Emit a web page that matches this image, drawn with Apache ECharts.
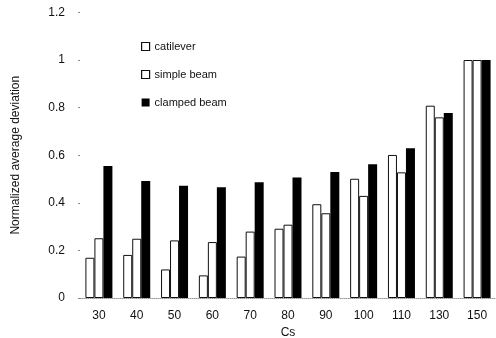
<!DOCTYPE html>
<html>
<head>
<meta charset="utf-8">
<script src="https://cdn.jsdelivr.net/npm/echarts@6/dist/echarts.min.js"></script>
<style>
html,body{margin:0;padding:0;background:#fff;}
#chart{width:496px;height:338px;}
</style>
</head>
<body>
<div id="chart"></div>
<script>
var categories = ['30','40','50','60','70','80','90','100','110','130','150'];
var cantilever = [0.169,0.181,0.120,0.095,0.174,0.291,0.394,0.501,0.601,0.808,1.0];
var simpleBeam = [0.251,0.249,0.242,0.235,0.279,0.308,0.356,0.429,0.528,0.759,1.0];
var clampedBeam = [0.555,0.492,0.472,0.465,0.486,0.506,0.529,0.562,0.629,0.777,1.0];
var yTicks = [0,0.2,0.4,0.6,0.8,1,1.2];

var font = 'Liberation Sans';
var chart = echarts.init(document.getElementById('chart'), null, {renderer:'canvas'});
chart.setOption({
  animation:false,
  backgroundColor:'#fff',
  textStyle:{fontFamily:font},
  grid:{left:80,right:0,top:12.4,bottom:40,containLabel:false,outerBoundsMode:'none'},
  legend:{
    left:141, top:41, padding:0, orient:'vertical', itemWidth:8, itemHeight:8, itemGap:17,
    textStyle:{fontFamily:font,fontSize:11,color:'#111'},
    data:[
      {name:'catilever',icon:'rect',itemStyle:{color:'#fff',borderColor:'#111',borderWidth:1.2}},
      {name:'simple beam',icon:'rect',itemStyle:{color:'#fff',borderColor:'#111',borderWidth:1.2}},
      {name:'clamped beam',icon:'rect',itemStyle:{color:'#000'}}
    ]
  },
  xAxis:{
    type:'category', data:categories,
    name:'Cs', nameLocation:'middle', nameGap:28,
    nameTextStyle:{fontFamily:font,fontSize:12,color:'#111'},
    axisLine:{show:true,lineStyle:{color:'#999',type:'dotted',width:1}},
    axisTick:{show:false},
    axisLabel:{margin:12,fontSize:12,color:'#111',fontFamily:font}
  },
  yAxis:{
    type:'value', min:0, max:1.2, interval:0.2,
    name:'Normalized average deviation', nameLocation:'middle', nameGap:58, nameRotate:90,
    nameTextStyle:{fontFamily:font,fontSize:12,color:'#111'},
    axisLine:{show:false},
    axisTick:{show:true,length:2,lineStyle:{color:'#888'}},
    splitLine:{show:false},
    axisLabel:{margin:15,fontSize:12,color:'#111',fontFamily:font,
      formatter:function(v){ for(var i=0;i<yTicks.length;i++){ if(Math.abs(yTicks[i]-v)<1e-6) return String(yTicks[i]); } return ''; }}
  },
  series:[
    {name:'catilever',type:'bar',data:cantilever,barWidth:9,barGap:'0%',
     itemStyle:{color:'#fff',borderColor:'#111',borderWidth:1}},
    {name:'simple beam',type:'bar',data:simpleBeam,barWidth:9,barGap:'0%',
     itemStyle:{color:'#fff',borderColor:'#111',borderWidth:1}},
    {name:'clamped beam',type:'bar',data:clampedBeam,barWidth:9,barGap:'0%',
     itemStyle:{color:'#000',borderColor:'#000',borderWidth:0}}
  ]
});
</script>
</body>
</html>
